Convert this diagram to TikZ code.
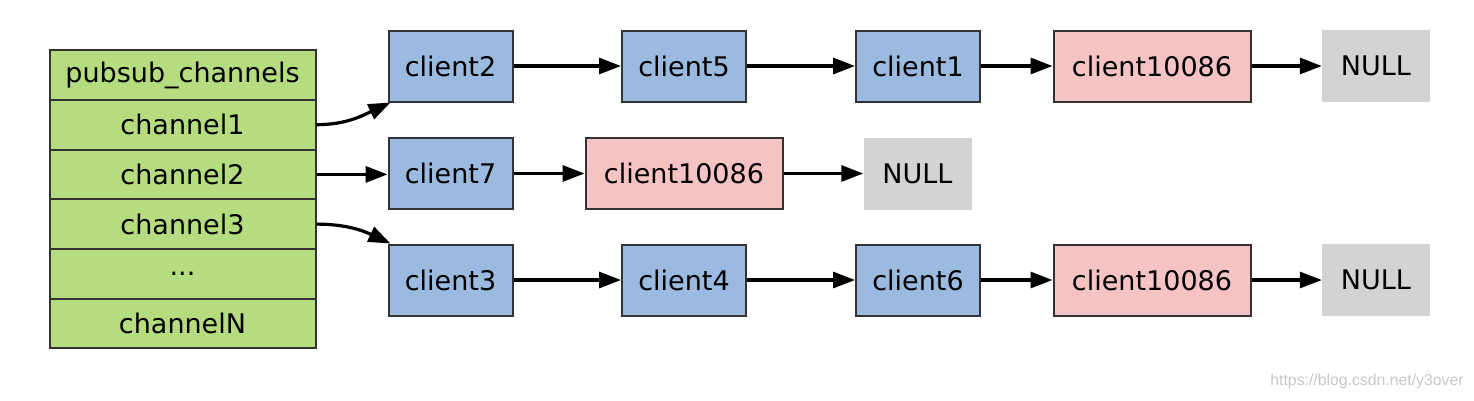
\documentclass[tikz,border=0pt]{standalone}
\usepackage{fontspec}
\setmainfont{DejaVu Sans}
\newfontfamily\wmfont{Liberation Sans}
\usetikzlibrary{arrows.meta, positioning, calc}

\definecolor{chgreen}{HTML}{B5DD7F}
\definecolor{cliblue}{HTML}{9BBAE0}
\definecolor{mepink}{HTML}{F5C3C3}
\definecolor{nullgray}{HTML}{D3D3D3}

\tikzset{
  every node/.style={font=\fontsize{27}{32}\selectfont, inner sep=0pt},
  cell/.style={draw=black!80, line width=2pt, fill=chgreen, minimum width=266pt, minimum height=49.7pt},
  cli/.style={draw=black!80, line width=2pt, fill=cliblue, minimum width=124pt, minimum height=71pt},
  me/.style={cli, fill=mepink, minimum width=197pt},
  nul/.style={fill=nullgray, minimum width=108pt, minimum height=72pt},
  link/.style={line width=3.2pt, -{Triangle[length=22pt,width=16pt]}}
}

\begin{document}
\begin{tikzpicture}[x=1pt,y=-1pt]
\useasboundingbox (0,0) rectangle (1474,400);
% the dict of channels
\foreach \t [count=\i from 0] in {pubsub\_channels, channel1, channel2, channel3, .{}.{}., channelN} {
\node[cell] (ch\i) at (182.5, 75+49.7*\i) {\t};
}
% subscribers of channel1
\node[cli] (a1) at (450.5,66) {client2};
\node[cli] (a2) at (684,66) {client5};
\node[cli] (a3) at (918,66) {client1};
\node[me] (a4) at (1152,66) {client10086};
\node[nul] (a5) at (1376,66) {NULL};
% subscribers of channel2
\node[cli] (b1) at (450.5,173.5) {client7};
\node[me] (b2) at (684,173.5) {client10086};
\node[nul] (b3) at (917.5,173.5) {NULL};
% subscribers of channel3
\node[cli] (c1) at (450.5,280) {client3};
\node[cli] (c2) at (684,280) {client4};
\node[cli] (c3) at (918,280) {client6};
\node[me] (c4) at (1152,280) {client10086};
\node[nul] (c5) at (1376,280) {NULL};

\foreach \p / \q in {a1/a2, a2/a3, a3/a4, a4/a5, b1/b2, b2/b3,
  c1/c2, c2/c3, c3/c4, c4/c5} {
\draw[link] (\p) -- (\q);
}
\draw[link] (ch1.east) to[out=0, in=205] ([xshift=3pt]a1.south west);
\draw[link] (ch2.east) -- (ch2.east -| b1.west);
\draw[link] (ch3.east) to[out=0, in=155] ([xshift=3pt]c1.north west);

\node[text=black!22, font=\wmfont\fontsize{15.8}{18}\selectfont] (wm) at (1367,381) {https://blog.csdn.net/y3over};
\end{tikzpicture}
\end{document}
